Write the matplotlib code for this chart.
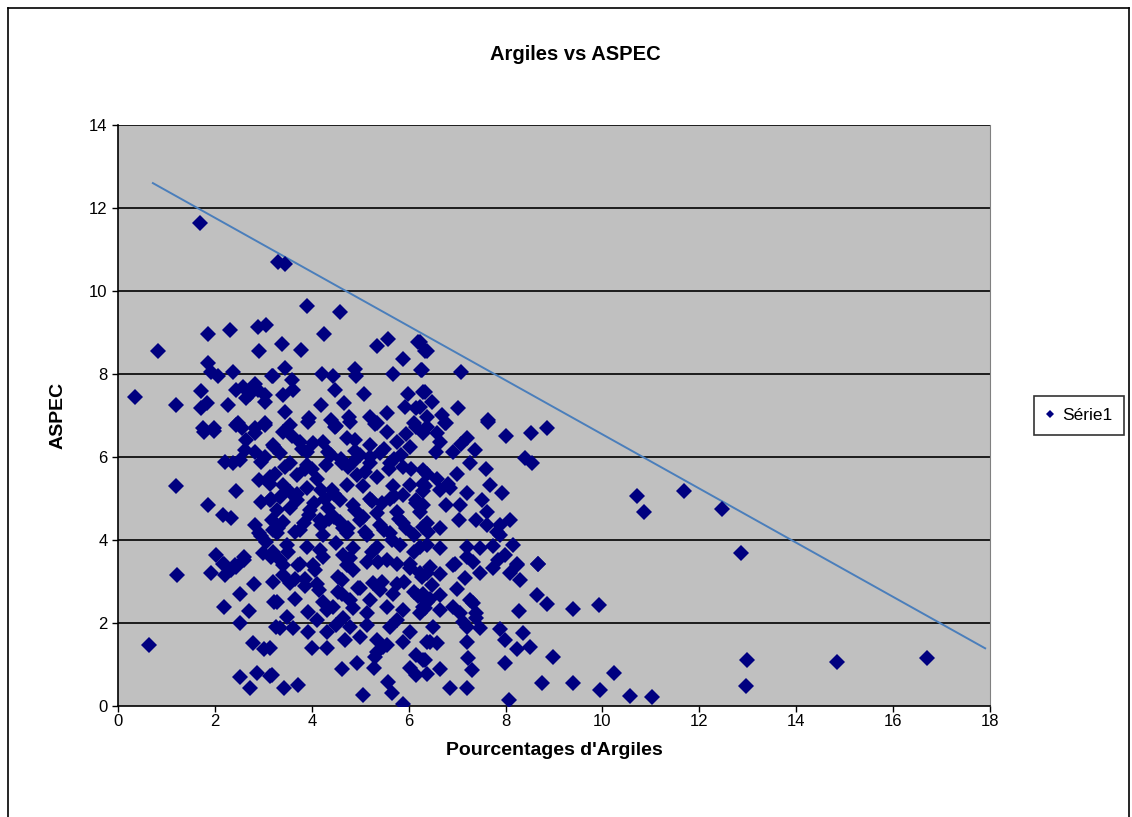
import matplotlib
matplotlib.use('Agg')
import matplotlib.pyplot as plt
from matplotlib.lines import Line2D

# Argiles (%) / ASPEC
argiles = [
    0.35, 0.65, 0.83, 1.20, 1.20, 1.22, 1.70, 3.30, 3.45,
    10.71, 10.85, 11.69, 12.46, 12.86, 9.92, 9.39, 12.98, 12.96, 14.84, 16.69,
    9.40, 9.94, 10.23, 10.57, 11.02,
    8.68, 8.64, 8.85, 8.28, 7.89, 8.37, 7.99, 8.23, 8.51, 8.97, 7.99, 8.76, 8.08,
    6.85, 7.20, 6.65, 7.30, 6.37, 7.23, 6.34, 7.20, 6.44, 6.58, 7.20, 6.51, 7.47,
    7.40, 6.65, 6.92, 6.37, 6.65, 7.27, 6.48, 6.99, 8.30, 8.09, 8.23, 7.16, 7.47,
    7.75, 6.92, 6.44, 6.23, 7.33,
    8.85, 8.53, 8.01, 7.63, 8.40, 8.54, 7.20, 7.09, 7.36, 6.91, 6.56, 6.75, 6.37,
    6.58, 6.65, 7.27, 7.60, 6.99, 6.37, 6.58, 6.82, 6.30, 7.68, 7.92, 7.20, 6.30,
    6.65, 6.85, 7.51, 6.78, 7.06, 6.30, 7.61, 8.09, 7.03, 7.40, 7.89, 7.61, 6.37,
    6.65, 7.82, 7.89, 8.16, 7.75, 7.20, 7.47, 6.65, 6.37, 7.99, 7.20, 8.68, 8.23,
    7.85, 6.96,
    7.09, 6.37, 6.23, 6.27, 6.34, 6.48, 7.01, 6.23, 6.68, 7.63, 6.37, 6.78,
    3.90, 4.58, 4.26, 3.39, 3.78, 5.34, 5.57, 6.19, 6.34, 5.89, 6.26, 5.68, 4.89,
    4.91, 4.21, 4.44, 3.45, 3.59, 3.17, 3.62, 3.41, 4.47, 5.08, 4.19, 4.67, 5.98,
    6.16, 6.30, 5.92, 3.45, 3.95, 4.77, 5.20, 5.55, 5.34, 6.10, 3.55, 4.51,
    1.86, 2.31, 2.88, 3.05, 2.92, 1.86, 1.93, 2.06, 2.37, 1.71, 1.72, 1.84, 2.28,
    2.44, 2.58, 2.72, 2.82, 3.03, 2.89, 3.20, 2.65, 3.03, 1.75, 1.99, 2.48, 3.03,
    2.82,
    1.77, 1.99, 2.44, 2.55, 2.82, 3.03, 2.65, 2.62, 2.82, 3.20, 2.20, 2.37, 2.51,
    2.96, 3.03, 2.92, 3.13, 2.44, 2.96, 3.13, 1.86, 2.17, 2.34, 2.82, 2.92, 3.17,
    3.20, 2.03, 2.17, 2.41, 2.61, 2.99, 3.20,
    1.93, 2.20, 2.34, 2.19, 2.44, 2.61, 2.52, 2.19, 3.23, 2.51, 3.27, 2.79, 3.01,
    2.52, 2.86, 3.13, 2.72,
    3.41, 3.72, 3.41, 3.55, 3.85, 4.07, 4.72, 4.86, 4.62, 5.27, 5.37, 5.75, 6.03,
    6.27, 5.68, 6.10, 3.28, 3.65, 4.24, 4.62, 4.79, 5.20, 5.55, 5.89, 6.30, 3.93,
    4.31, 4.44, 4.86, 5.13, 3.48, 4.10, 4.65, 3.34, 3.62, 3.93, 4.31, 4.51, 4.79,
    5.13, 5.61, 5.75, 6.03, 4.69, 5.00, 5.34, 5.55, 5.89, 6.37, 4.00, 4.31, 5.34,
    5.48, 5.31, 6.16, 6.30, 3.14, 4.62, 4.93, 5.28, 6.03, 6.16, 3.17, 3.43, 3.71,
    5.05, 5.58, 5.65, 5.88,
    3.93, 4.48, 4.79, 5.55, 6.16, 6.30, 3.41, 3.76, 4.03, 4.24, 4.72, 5.20, 5.75,
    6.03, 3.21, 3.34, 3.90, 4.34, 5.00, 5.20, 5.61, 5.89, 3.55, 3.90, 4.62, 4.86,
    6.30, 3.24, 3.69, 4.10, 4.93, 5.34, 3.14, 3.41, 3.90, 4.41, 4.72, 5.06, 5.68,
    6.03, 6.34, 3.34, 3.69, 4.27, 4.58, 5.20, 5.61, 5.89, 6.16, 3.28, 3.55, 3.96,
    4.34, 4.89, 5.34, 5.75, 6.23, 3.41, 3.83, 4.17, 4.58, 5.00, 5.41, 5.89, 6.30,
    3.28, 3.65, 4.24, 4.72, 5.13, 5.61, 6.10, 3.48, 3.90, 4.17, 4.51, 4.86, 5.34,
    5.82, 6.23, 3.34, 3.76, 4.24, 4.79, 5.13, 5.55, 6.03, 4.03,
    6.37, 6.65, 6.30, 6.44, 6.34, 6.23, 7.06, 7.33, 7.40, 7.13,
    3.60, 3.80, 4.00, 4.40, 4.60, 4.90, 5.10, 5.30, 5.50, 5.70, 5.95, 3.70, 4.20,
    4.45, 4.75, 5.05, 5.45, 5.80, 3.50, 3.95, 4.35, 4.65, 5.25, 5.65, 6.10, 3.85,
    4.15, 4.55, 4.95, 5.40, 5.75, 6.20,
    3.15, 3.55, 4.05, 4.45, 4.85, 5.25, 5.70, 6.15, 3.30, 3.75, 4.20, 4.65, 5.10,
    5.50, 5.95, 6.40, 3.20, 3.65, 4.10, 4.55, 5.00, 5.45, 5.90, 3.45, 3.85, 4.30,
    4.75, 5.20, 5.60, 6.05, 2.95, 3.05, 3.15, 2.80, 2.70, 4.40, 4.90, 5.40, 5.85,
]
aspec = [
    7.45, 1.47, 8.55, 7.25, 5.30, 3.16, 11.65, 10.70, 10.65,
    5.06, 4.68, 5.18, 4.74, 3.68, 2.43, 2.33, 1.12, 0.48, 1.06, 1.16,
    0.56, 0.39, 0.80, 0.25, 0.21,
    3.42, 2.67, 2.45, 2.30, 1.86, 1.77, 1.59, 1.37, 1.41, 1.19, 1.04, 0.56, 0.14,
    0.44, 0.43, 0.88, 0.87, 0.76, 1.15, 1.11, 1.55, 1.55, 1.51, 1.91, 1.91, 1.87,
    2.23, 2.31, 2.39, 2.51, 2.67, 2.55, 2.92, 2.83, 3.04, 3.20, 3.40, 3.08, 3.20,
    3.32, 3.40, 3.36, 3.20, 3.48,
    6.69, 6.57, 6.51, 6.85, 5.97, 5.86, 6.45, 6.31, 6.17, 6.13, 6.13, 6.81, 6.73,
    6.57, 6.37, 5.85, 5.70, 5.60, 5.60, 5.48, 5.36, 5.36, 5.33, 5.13, 5.13, 5.17,
    5.20, 5.25, 4.96, 4.84, 4.84, 4.84, 4.68, 4.48, 4.48, 4.48, 4.36, 4.36, 4.40,
    4.28, 4.20, 4.12, 3.88, 3.86, 3.84, 3.80, 3.80, 3.88, 3.64, 3.60, 3.43, 3.43,
    3.52, 3.42,
    8.06, 8.55, 8.78, 8.10, 7.57, 7.33, 7.17, 7.21, 7.01, 6.88, 6.97, 6.81,
    9.65, 9.50, 8.96, 8.72, 8.59, 8.68, 8.84, 8.78, 8.55, 8.35, 8.10, 8.00, 8.11,
    7.94, 8.00, 7.94, 8.14, 7.86, 7.94, 7.61, 7.49, 7.61, 7.53, 7.25, 7.31, 7.51,
    7.19, 7.57, 7.21, 7.09, 6.93, 6.96, 6.97, 7.07, 6.81, 6.81, 6.77, 6.75,
    8.96, 9.06, 9.14, 9.18, 8.55, 8.26, 8.06, 7.94, 8.06, 7.59, 7.17, 7.29, 7.25,
    7.61, 7.69, 7.53, 7.77, 7.49, 7.61, 7.94, 7.41, 7.33, 6.69, 6.69, 6.81, 6.81,
    6.69,
    6.61, 6.63, 6.77, 6.69, 6.57, 6.77, 6.41, 6.17, 6.13, 6.29, 5.89, 5.85, 5.93,
    5.89, 6.01, 5.45, 5.53, 5.19, 4.92, 4.96, 4.84, 4.60, 4.52, 4.36, 4.16, 4.48,
    4.24, 3.64, 3.43, 3.40, 3.60, 3.68, 3.72,
    3.21, 3.16, 3.28, 3.42, 3.36, 3.52, 2.70, 2.38, 2.51, 1.99, 1.91, 1.53, 1.37,
    0.71, 0.79, 0.72, 0.43,
    3.40, 3.40, 3.16, 2.96, 3.06, 3.28, 3.40, 3.28, 3.04, 2.96, 3.48, 3.43, 3.32,
    3.12, 2.71, 2.75, 2.51, 2.57, 2.51, 2.71, 2.55, 2.55, 2.39, 2.31, 2.39, 2.27,
    2.31, 2.39, 2.35, 2.23, 2.15, 2.07, 2.11, 1.87, 1.87, 1.79, 1.79, 1.95, 1.91,
    1.95, 1.91, 2.07, 1.79, 1.59, 1.67, 1.59, 1.47, 1.55, 1.55, 1.39, 1.39, 1.31,
    1.43, 1.19, 1.23, 1.11, 1.39, 0.88, 1.04, 0.91, 0.91, 0.75, 0.75, 0.43, 0.51,
    0.27, 0.59, 0.31, 0.05,
    6.85, 6.73, 6.85, 6.61, 6.73, 6.57, 6.61, 6.37, 6.33, 6.37, 6.45, 6.29, 6.37,
    6.25, 6.25, 6.09, 6.13, 6.13, 6.05, 6.01, 5.85, 5.77, 5.85, 5.81, 5.85, 5.89,
    5.69, 5.60, 5.57, 5.48, 5.57, 5.53, 5.36, 5.33, 5.25, 5.20, 5.33, 5.29, 5.29,
    5.33, 5.29, 5.04, 4.96, 5.00, 4.96, 5.00, 5.00, 5.08, 4.96, 4.72, 4.76, 4.72,
    4.76, 4.72, 4.64, 4.68, 4.68, 4.44, 4.40, 4.48, 4.44, 4.48, 4.36, 4.40, 4.32,
    4.16, 4.20, 4.12, 4.16, 4.12, 4.16, 4.12, 3.88, 3.84, 3.76, 3.92, 3.80, 3.84,
    3.88, 3.84, 3.52, 3.43, 3.60, 3.56, 3.48, 3.52, 3.43, 3.40,
    3.20, 3.18, 2.71, 2.59, 2.35, 2.23, 2.23, 2.47, 2.11, 2.03,
    6.50, 6.20, 5.70, 6.90, 5.95, 6.40, 5.65, 6.80, 6.20, 5.95, 6.55, 5.10, 5.20,
    4.55, 4.30, 4.55, 4.90, 4.50, 3.70, 4.60, 4.50, 3.65, 3.70, 4.00, 3.70, 2.90,
    2.80, 2.75, 2.85, 2.80, 2.95, 2.65,
    5.00, 5.15, 4.90, 5.10, 4.85, 4.95, 5.05, 4.90, 4.30, 4.25, 4.35, 4.30, 4.20,
    4.25, 4.30, 4.20, 3.00, 3.05, 2.95, 3.10, 2.85, 3.00, 3.00, 5.75, 5.70, 5.80,
    5.75, 5.85, 5.70, 5.70, 4.10, 3.95, 3.60, 2.95, 2.30, 6.05, 6.15, 6.10, 6.05,
]

# trend line end points
trend_x = [0.72, 17.9]
trend_y = [12.6, 1.39]

x_ticks = [0, 2, 4, 6, 8, 10, 12, 14, 16, 18]
y_ticks = [0, 2, 4, 6, 8, 10, 12, 14]

W, H = 1132, 817
fig = plt.figure(figsize=(W / 100, H / 100), dpi=100)
fig.patch.set_facecolor('white')
plt.rcParams['font.family'] = ['Liberation Sans', 'DejaVu Sans']

# chart area border (bottom edge lies outside the picture)
for xs, ys in [([8, 8], [8, 817]), ([8, 1129], [8, 8]), ([1129, 1129], [8, 817])]:
    fig.add_artist(Line2D([v / W for v in xs], [1 - v / H for v in ys],
                          color='black', lw=1.2))

ax = fig.add_axes([118 / W, 1 - 706 / H, (990 - 118) / W, (706 - 125) / H])
ax.set_facecolor('#C0C0C0')
ax.set_xlim(0, 18)
ax.set_ylim(0, 14)
ax.set_xticks(x_ticks)
ax.set_yticks(y_ticks)
ax.tick_params(direction='out', length=4, width=1, labelsize=12, colors='black')
ax.tick_params(axis='x', pad=2)
for y in y_ticks[1:]:
    ax.axhline(y, color='black', lw=1.2, zorder=1)
ax.spines['top'].set_visible(False)
ax.spines['right'].set_color('#808080')
ax.spines['left'].set_linewidth(1.2)
ax.spines['bottom'].set_linewidth(1.2)

ax.plot(trend_x, trend_y, color='#4A7EBB', lw=1.4, zorder=2)
ax.plot(argiles, aspec, linestyle='none', marker='D', markersize=8,
        color='#000080', markeredgewidth=0, zorder=3, label='Série1')

fig.text(575 / W, 1 - 55 / H, 'Argiles vs ASPEC', fontsize=14.5,
         fontweight='bold', ha='center', va='center')
ax.set_xlabel("Pourcentages d'Argiles", fontsize=14, fontweight='bold', labelpad=9)
ax.set_ylabel('ASPEC', fontsize=14, fontweight='bold', labelpad=16)

leg = ax.legend(loc='center left', bbox_to_anchor=((1034 - 118) / 872, 0.5),
                fontsize=12.5, frameon=True, fancybox=False, handlelength=0.5,
                handletextpad=0.4, borderpad=0.7, markerscale=0.55,
                borderaxespad=0)
leg.get_frame().set_edgecolor('black')
leg.get_frame().set_linewidth(1.2)

fig.savefig('out.png', dpi=100, facecolor='white')
